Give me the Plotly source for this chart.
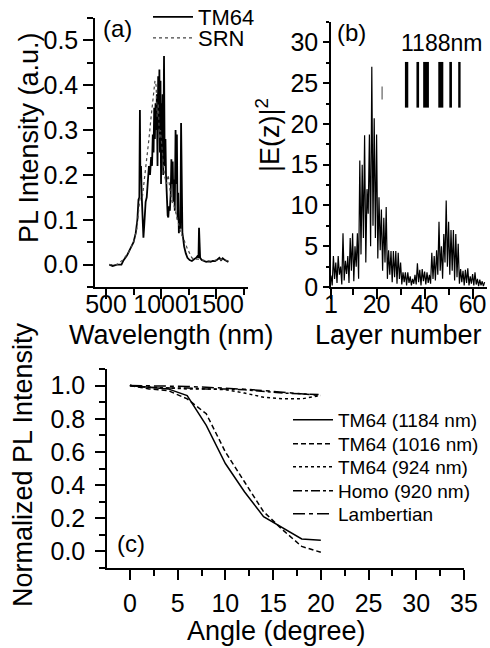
import plotly.graph_objects as go

# ---------------- Panel (a): PL spectra ----------------
wl_tm64 = [530, 560, 600, 640, 660, 690, 720, 750, 770, 785, 795, 803, 808, 812, 818, 825, 835, 840,
           848, 860, 870, 880, 890, 900, 910, 918, 925, 932, 938, 944, 950, 956, 962, 968, 974, 980,
           985, 990, 995, 1000, 1005, 1010, 1015, 1020, 1027, 1033, 1040, 1045, 1052, 1060, 1066,
           1072, 1080, 1088, 1094, 1100, 1106, 1112, 1118, 1125, 1132, 1138, 1144, 1150, 1156, 1162,
           1170, 1176, 1182, 1188, 1194, 1200, 1210, 1225, 1240, 1260, 1280, 1300, 1320, 1335, 1340,
           1345, 1350, 1355, 1370, 1390, 1410, 1430, 1450, 1470, 1490, 1510, 1530, 1545, 1560, 1580,
           1600, 1612]
pl_tm64 = [0.0, -0.003, 0.0, 0.0, 0.01, 0.02, 0.035, 0.05, 0.07, 0.10, 0.145, 0.15, 0.345, 0.20,
           0.22, 0.15, 0.07, 0.06, 0.09, 0.14, 0.15, 0.20, 0.22, 0.20, 0.24, 0.22, 0.29, 0.25, 0.35,
           0.28, 0.36, 0.30, 0.38, 0.22, 0.42, 0.30, 0.435, 0.25, 0.41, 0.18, 0.36, 0.28, 0.38, 0.20,
           0.465, 0.22, 0.28, 0.20, 0.145, 0.11, 0.105, 0.13, 0.12, 0.16, 0.235, 0.18, 0.23, 0.14,
           0.19, 0.12, 0.30, 0.18, 0.29, 0.10, 0.16, 0.07, 0.10, 0.08, 0.316, 0.12, 0.07, 0.06, 0.04,
           0.025, 0.015, 0.01, 0.008, 0.012, 0.015, 0.02, 0.015, 0.082, 0.03, 0.015, 0.01, 0.008,
           0.006, 0.007, 0.006, 0.008, 0.008, 0.011, 0.015, 0.01, 0.014, 0.01, 0.008, 0.006]
wl_srn = [530, 600, 650, 700, 750, 780, 800, 810, 830, 850, 870, 890, 910, 930, 945, 955, 965, 975,
          985, 995, 1005, 1015, 1030, 1050, 1065, 1080, 1100, 1120, 1140, 1160, 1180, 1200, 1220,
          1240, 1260, 1280, 1300, 1340, 1380, 1420, 1460, 1500, 1540, 1580, 1612]
pl_srn = [0.0, 0.0, 0.01, 0.025, 0.05, 0.08, 0.13, 0.15, 0.15, 0.19, 0.23, 0.28, 0.33, 0.37, 0.41,
          0.40, 0.33, 0.36, 0.28, 0.30, 0.27, 0.25, 0.20, 0.18, 0.20, 0.17, 0.14, 0.13, 0.11, 0.09,
          0.07, 0.06, 0.045, 0.035, 0.025, 0.015, 0.012, 0.012, 0.01, 0.008, 0.008, 0.01, 0.012,
          0.01, 0.008]

# ---------------- Panel (b): |E(z)|^2 vs layer ----------------
e2_values = [1.4, 0.2, 3.8, 1.0, 3.0, 0.5, 3.8, 1.5, 2.5, 0.3, 6.6, 0.8, 3.2, 1.6, 3.8, 0.5,
             6.0, 2.0, 6.6, 0.7, 5.0, 2.5, 6.6, 1.0, 15.5, 4.0, 15.0, 6.0, 18.6, 3.0, 12.0, 9.0,
             18.7, 5.0, 27.0, 7.5, 20.7, 6.0, 18.7, 3.5, 11.0, 4.5, 9.5, 2.0, 8.5, 3.0, 9.8, 1.0,
             4.5, 1.5, 4.4, 0.6, 4.4, 1.2, 4.4, 0.4, 4.2, 1.0, 3.0, 0.3, 1.8, 0.6, 1.8, 0.2,
             1.8, 0.5, 1.3, 0.2, 1.0, 0.4, 1.5, 0.3, 2.9, 0.6, 2.1, 0.2, 2.2, 0.7, 1.9, 0.3,
             1.8, 0.5, 1.5, 0.4, 4.2, 1.0, 3.8, 0.8, 4.5, 1.5, 8.0, 2.0, 5.0, 1.0, 6.5, 3.0,
             10.6, 2.5, 8.0, 1.5, 7.0, 2.0, 7.0, 0.8, 6.5, 1.2, 5.3, 0.4, 2.2, 0.6, 2.0, 0.2,
             2.1, 0.5, 2.3, 0.2, 1.3, 0.4, 1.6, 0.2, 1.8, 0.3, 1.0, 0.1, 0.9, 0.2, 0.7, 0.1, 0.6]
layer_pos = [1 + 0.5 * i for i in range(len(e2_values))]
# inset schematic of the structure (layer bands)
inset_band_left = [31.8, 36.6, 39.4, 45.7, 50.3, 54.0]
inset_band_right = [33.2, 37.7, 41.8, 47.8, 51.4, 55.0]

# ---------------- Panel (c): angular dependence ----------------
angle_deg = [0, 2, 4, 6, 8, 10, 12, 14, 16, 18, 20]
tm64_1184 = [1.0, 0.99, 0.98, 0.94, 0.76, 0.53, 0.36, 0.21, 0.145, 0.075, 0.068]
tm64_1016 = [1.0, 0.98, 0.97, 0.92, 0.83, 0.60, 0.42, 0.24, 0.13, 0.03, -0.005]
tm64_924 = [1.0, 0.99, 0.985, 0.98, 0.98, 0.975, 0.955, 0.93, 0.92, 0.92, 0.94]
homo_920 = [1.0, 0.99, 0.985, 0.985, 0.98, 0.98, 0.975, 0.965, 0.955, 0.95, 0.945]
lambertian = [1.0, 0.999, 0.998, 0.995, 0.990, 0.985, 0.978, 0.970, 0.961, 0.951, 0.940]

W, H = 490, 648
FONT = "Liberation Sans"
TICK_SIZE = 25


def px(xp):
    return xp / W


def py(yp):
    return 1 - yp / H


fig = go.Figure()

# panel a traces
fig.add_trace(go.Scatter(x=wl_tm64, y=pl_tm64, mode="lines", name="TM64",
                         line=dict(color="black", width=1.8), xaxis="x", yaxis="y",
                         legend="legend"))
fig.add_trace(go.Scatter(x=wl_srn, y=pl_srn, mode="lines", name="SRN",
                         line=dict(color="#444444", width=1.2, dash="dot"), xaxis="x", yaxis="y",
                         legend="legend2"))

# panel b trace
fig.add_trace(go.Scatter(x=layer_pos, y=e2_values, mode="lines", showlegend=False,
                         line=dict(color="black", width=1.2), xaxis="x2", yaxis="y2"))

# panel c traces
c_series = [
    ("TM64 (1184 nm)", tm64_1184, "solid", "legend3"),
    ("TM64 (1016 nm)", tm64_1016, "5px,3px", "legend4"),
    ("TM64 (924 nm)", tm64_924, "dot", "legend5"),
    ("Homo (920 nm)", homo_920, "dashdot", "legend6"),
    ("Lambertian", lambertian, "12px,4px,4px,4px", "legend7"),
]
for name, vals, dash, leg in c_series:
    fig.add_trace(go.Scatter(x=angle_deg, y=vals, mode="lines", name=name,
                             line=dict(color="black", width=1.5, dash=dash),
                             xaxis="x3", yaxis="y3", legend=leg))


def axis(**kw):
    base = dict(showline=True, linecolor="black", linewidth=1.5, mirror=False,
                ticks="outside", tickcolor="black", tickwidth=1.5, ticklen=10,
                showgrid=False, zeroline=False, tickangle=0,
                tickfont=dict(family=FONT, size=TICK_SIZE, color="black"))
    base.update(kw)
    return base


def minor(**kw):
    base = dict(ticklen=6, tickcolor="black", tickwidth=1.5, ticks="outside")
    base.update(kw)
    return base


fig.update_layout(
    width=W, height=H, margin=dict(l=0, r=0, t=0, b=0, autoexpand=False),
    paper_bgcolor="white", plot_bgcolor="white",
    font=dict(family=FONT, color="black"),
    xaxis=axis(domain=[px(95), px(248)], range=[400, 1790], anchor="y",
               tickvals=[500, 1000, 1500], ticklabelstandoff=-16,
               minor=minor(tickvals=[750, 1250, 1750])),
    yaxis=axis(domain=[py(287), py(18)], range=[-0.05, 0.55], anchor="x",
               tickvals=[0.0, 0.1, 0.2, 0.3, 0.4, 0.5], tickformat=".1f",
               minor=minor(dtick=0.05, tick0=0)),
    xaxis2=axis(domain=[px(331), px(487)], range=[1, 66], anchor="y2",
                tickvals=[1, 20, 40, 60], ticklabelstandoff=-16,
                minor=minor(tickvals=[10, 30, 50])),
    yaxis2=axis(domain=[py(287), py(22)], range=[0, 32.5], anchor="x2", ticklen=6,
                tickvals=[0, 5, 10, 15, 20, 25, 30],
                minor=minor(dtick=2.5, tick0=0, ticklen=3)),
    xaxis3=axis(domain=[px(107), px(464)], range=[-2.4, 35], anchor="y3",
                tickvals=[0, 5, 10, 15, 20, 25, 30, 35], ticklabelstandoff=2,
                minor=minor(dtick=2.5, tick0=0)),
    yaxis3=axis(domain=[py(568), py(369)], range=[-0.1, 1.1], anchor="x3",
                tickvals=[0.0, 0.2, 0.4, 0.6, 0.8, 1.0], tickformat=".1f",
                ticklabelstandoff=5, minor=minor(dtick=0.1, tick0=0)),
)

leg_common = dict(bgcolor="rgba(0,0,0,0)", borderwidth=0, xanchor="left", yanchor="middle",
                  itemwidth=40)
fig.update_layout(
    legend=dict(x=px(148), y=py(17), font=dict(family=FONT, size=22), **leg_common),
    legend2=dict(x=px(148), y=py(38), font=dict(family=FONT, size=22), **leg_common),
)
for i, yy in enumerate([420, 444, 467, 491, 514]):
    fig.update_layout({f"legend{i + 3}": dict(x=px(288), y=py(yy),
                                              font=dict(family=FONT, size=19), **leg_common)})

# axis titles and panel labels
ann = [
    dict(text="PL Intensity (a.u.)", x=px(29), y=py(138), textangle=-90, size=27),
    dict(text="Wavelength (nm)", x=px(171), y=py(335), textangle=0, size=27),
    dict(text="Layer number", x=px(398), y=py(335), textangle=0, size=27),
    dict(text="|E(z)|<sup>2</sup>", x=px(268), y=py(135), textangle=-90, size=27),
    dict(text="Normalized PL Intensity", x=px(23), y=py(465), textangle=-90, size=27),
    dict(text="Angle (degree)", x=px(276), y=py(631), textangle=0, size=27),
    dict(text="(a)", x=px(117), y=py(29), textangle=0, size=24),
    dict(text="(b)", x=px(351), y=py(32), textangle=0, size=24),
    dict(text="(c)", x=px(131), y=py(543), textangle=0, size=24),
    dict(text="1188nm", x=px(441), y=py(43), textangle=0, size=23),
]
for a in ann:
    fig.add_annotation(text=a["text"], x=a["x"], y=a["y"], xref="paper", yref="paper",
                       showarrow=False, textangle=a["textangle"], xanchor="center",
                       yanchor="middle", font=dict(family=FONT, size=a["size"], color="black"))

# inset structure schematic in panel (b)
for x0, x1 in zip(inset_band_left, inset_band_right):
    fig.add_shape(type="rect", xref="x2", yref="y2", x0=x0, x1=x1, y0=22.0, y1=27.6,
                  fillcolor="black", line=dict(width=0))
fig.add_shape(type="line", xref="x2", yref="y2", x0=22.3, x1=22.3, y0=23.0, y1=24.6,
              line=dict(color="gray", width=1.5))

fig.write_html("out.html", config={"displayModeBar": False},
               post_script="document.body.style.margin='0';document.body.style.overflow='hidden';")
